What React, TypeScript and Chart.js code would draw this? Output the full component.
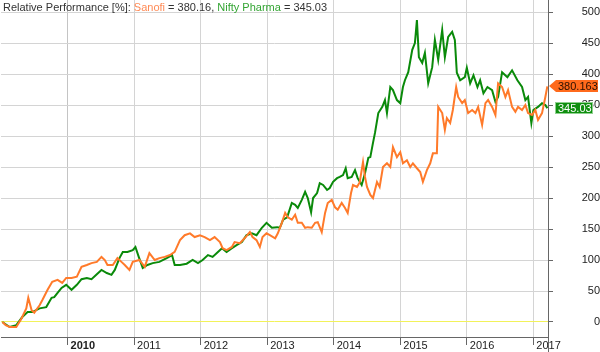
import React, { useEffect, useRef } from "react";
import { Chart, registerables } from "chart.js";

Chart.register(...registerables);

const titleLabel = "Relative Performance [%]: ";
const seriesNames = ["Sanofi", "Nifty Pharma"];
const lastValues = ["380.16", "345.03"];
const endLabels = ["380.163", "345.03"];

const yearTicks = [2010, 2011, 2012, 2013, 2014, 2015, 2016, 2017];
const valueTicks = [0, 50, 100, 150, 200, 250, 300, 350, 400, 450, 500];

const sanofi: [number, number][] = [
  [2009.02, 0], [2009.07, -5], [2009.13, -8], [2009.23, -8], [2009.31, 6], [2009.38, 22], [2009.41, 39],
  [2009.46, 19], [2009.5, 15], [2009.58, 27], [2009.62, 35], [2009.7, 52], [2009.77, 65], [2009.85, 68],
  [2009.92, 63], [2009.98, 71], [2010.06, 71], [2010.14, 73], [2010.21, 89], [2010.29, 92], [2010.36, 95],
  [2010.44, 97], [2010.51, 105], [2010.56, 100], [2010.6, 92], [2010.68, 92], [2010.75, 103], [2010.81, 97],
  [2010.86, 92], [2010.93, 84], [2010.98, 97], [2011.08, 100], [2011.16, 89], [2011.23, 111], [2011.31, 100],
  [2011.38, 103], [2011.46, 105], [2011.54, 108], [2011.61, 113], [2011.69, 132], [2011.76, 140], [2011.84, 143],
  [2011.91, 137], [2011.99, 140], [2012.06, 137], [2012.14, 132], [2012.21, 137], [2012.29, 129], [2012.33, 119],
  [2012.39, 116], [2012.47, 121], [2012.51, 129], [2012.59, 127], [2012.66, 135], [2012.74, 145], [2012.78, 137],
  [2012.84, 132], [2012.89, 121], [2012.93, 137], [2012.99, 143], [2013.04, 140], [2013.12, 135], [2013.16, 143],
  [2013.22, 160], [2013.27, 176], [2013.31, 169], [2013.37, 165], [2013.42, 173], [2013.46, 160], [2013.52, 160],
  [2013.57, 152], [2013.61, 153], [2013.67, 152], [2013.72, 160], [2013.76, 161], [2013.82, 145], [2013.87, 176],
  [2013.91, 192], [2013.97, 197], [2014.02, 185], [2014.06, 181], [2014.12, 192], [2014.17, 184], [2014.21, 176],
  [2014.26, 208], [2014.29, 221], [2014.35, 218], [2014.39, 225], [2014.44, 258], [2014.47, 234], [2014.5, 218],
  [2014.55, 205], [2014.59, 200], [2014.65, 226], [2014.69, 218], [2014.74, 250], [2014.8, 256], [2014.85, 250],
  [2014.89, 282], [2014.95, 266], [2015.0, 274], [2015.04, 256], [2015.1, 261], [2015.15, 250], [2015.19, 256],
  [2015.25, 248], [2015.3, 242], [2015.34, 226], [2015.4, 245], [2015.45, 256], [2015.49, 272], [2015.55, 272],
  [2015.57, 347], [2015.63, 337], [2015.67, 310], [2015.7, 329], [2015.75, 321], [2015.79, 342], [2015.84, 379],
  [2015.87, 363], [2015.93, 353], [2015.97, 358], [2016.02, 337], [2016.08, 342], [2016.13, 337], [2016.17, 347],
  [2016.23, 318], [2016.28, 353], [2016.32, 358], [2016.38, 347], [2016.43, 334], [2016.47, 385], [2016.53, 379],
  [2016.58, 363], [2016.62, 374], [2016.68, 347], [2016.73, 339], [2016.77, 347], [2016.83, 342], [2016.88, 350],
  [2016.92, 337], [2016.98, 334], [2017.03, 342], [2017.07, 326], [2017.13, 337], [2017.18, 363], [2017.21, 380.163],
];

const niftyPharma: [number, number][] = [
  [2009.02, 0], [2009.13, -8], [2009.23, -5], [2009.32, 8], [2009.4, 16], [2009.47, 16], [2009.58, 22],
  [2009.68, 24], [2009.76, 39], [2009.8, 40], [2009.85, 47], [2009.91, 55], [2009.98, 60], [2010.06, 52],
  [2010.14, 60], [2010.21, 69], [2010.29, 71], [2010.36, 69], [2010.44, 77], [2010.51, 84], [2010.59, 79],
  [2010.66, 76], [2010.71, 84], [2010.78, 103], [2010.83, 113], [2010.9, 113], [2010.98, 116], [2011.02, 121],
  [2011.07, 105], [2011.13, 87], [2011.2, 92], [2011.28, 95], [2011.38, 97], [2011.49, 103], [2011.57, 108],
  [2011.61, 92], [2011.69, 92], [2011.79, 94], [2011.88, 100], [2011.96, 95], [2012.03, 100], [2012.11, 108],
  [2012.18, 105], [2012.26, 113], [2012.32, 119], [2012.39, 113], [2012.47, 119], [2012.54, 124], [2012.62, 129],
  [2012.69, 140], [2012.77, 143], [2012.84, 140], [2012.92, 152], [2012.99, 160], [2013.07, 152], [2013.15, 153],
  [2013.19, 152], [2013.24, 165], [2013.3, 169], [2013.37, 192], [2013.42, 189], [2013.46, 184], [2013.52, 197],
  [2013.57, 210], [2013.61, 200], [2013.66, 177], [2013.69, 200], [2013.75, 208], [2013.79, 224], [2013.84, 221],
  [2013.9, 213], [2013.94, 216], [2013.99, 226], [2014.05, 232], [2014.09, 234], [2014.14, 237], [2014.18, 248],
  [2014.21, 232], [2014.27, 234], [2014.32, 245], [2014.36, 232], [2014.42, 221], [2014.47, 240], [2014.52, 265],
  [2014.55, 266], [2014.59, 289], [2014.62, 305], [2014.67, 337], [2014.73, 347], [2014.77, 358], [2014.8, 337],
  [2014.85, 379], [2014.89, 374], [2014.95, 358], [2015.0, 353], [2015.04, 379], [2015.07, 390], [2015.12, 403],
  [2015.18, 439], [2015.22, 450], [2015.25, 487], [2015.28, 427], [2015.33, 418], [2015.37, 434], [2015.42, 385],
  [2015.48, 411], [2015.52, 455], [2015.57, 423], [2015.63, 471], [2015.67, 427], [2015.72, 460], [2015.78, 468],
  [2015.82, 455], [2015.85, 402], [2015.9, 390], [2015.97, 395], [2016.0, 410], [2016.05, 385], [2016.1, 398],
  [2016.16, 379], [2016.2, 390], [2016.25, 369], [2016.31, 379], [2016.38, 374], [2016.43, 355], [2016.47, 363],
  [2016.53, 403], [2016.61, 395], [2016.68, 406], [2016.76, 390], [2016.83, 379], [2016.88, 358], [2016.92, 363],
  [2016.97, 321], [2017.0, 342], [2017.07, 347], [2017.13, 353], [2017.18, 350], [2017.21, 345.03],
];

const ORANGE = "#ff7a2a";
const GREEN = "#0a8a0a";
const FONT = "Arial, 'Liberation Sans', sans-serif";

const decorPlugin = {
  id: "decor",
  afterDraw(chart: any) {
    const ctx = chart.ctx;
    const y = chart.scales.y;
    const area = chart.chartArea;
    ctx.save();
    ctx.strokeStyle = "#666";
    ctx.lineWidth = 1;
    ctx.beginPath();
    ctx.moveTo(Math.round(area.right) + 0.5, 0);
    ctx.lineTo(Math.round(area.right) + 0.5, chart.height);
    ctx.stroke();

    ctx.font = `11px ${FONT}`;
    ctx.textBaseline = "alphabetic";
    ctx.textAlign = "left";
    const parts: [string, string][] = [
      [titleLabel, "#333"],
      [seriesNames[0], "#ff8a55"],
      [` = ${lastValues[0]}, `, "#333"],
      [seriesNames[1], "#33a533"],
      [` = ${lastValues[1]}`, "#333"],
    ];
    let x = 3;
    for (const [t, c] of parts) {
      ctx.fillStyle = c;
      ctx.fillText(t, x, 11);
      x += ctx.measureText(t).width;
    }

    const left = Math.round(area.right);
    const yo = Math.round(y.getPixelForValue(sanofi[sanofi.length - 1][1]));
    ctx.fillStyle = "#ff6a1c";
    ctx.beginPath();
    ctx.moveTo(left + 1, yo);
    ctx.lineTo(left + 8, yo - 6);
    ctx.lineTo(598, yo - 6);
    ctx.lineTo(598, yo + 6);
    ctx.lineTo(left + 8, yo + 6);
    ctx.closePath();
    ctx.fill();
    ctx.fillStyle = "#2a1000";
    ctx.textBaseline = "middle";
    ctx.fillText(endLabels[0], left + 10, yo + 0.5);

    const yg = Math.round(y.getPixelForValue(niftyPharma[niftyPharma.length - 1][1]));
    ctx.fillStyle = "#0f8f0f";
    ctx.fillRect(left + 7, yg - 6, 38, 12);
    ctx.strokeStyle = "#8fd08f";
    ctx.strokeRect(left + 7.5, yg - 5.5, 37, 11);
    ctx.fillStyle = "#ffffff";
    ctx.fillText(endLabels[1], left + 10, yg + 0.5);
    ctx.restore();
  },
};

export default function App() {
  const ref = useRef<HTMLCanvasElement | null>(null);
  useEffect(() => {
    if (!ref.current) return;
    const chart = new Chart(ref.current, {
      type: "line",
      data: {
        datasets: [
          {
            label: seriesNames[0],
            data: sanofi.map(([x, v]) => ({ x, y: v })),
            borderColor: ORANGE,
            borderWidth: 2,
            pointRadius: 0,
            tension: 0,
            fill: false,
          },
          {
            label: seriesNames[1],
            data: niftyPharma.map(([x, v]) => ({ x, y: v })),
            borderColor: GREEN,
            borderWidth: 2,
            pointRadius: 0,
            tension: 0,
            fill: false,
          },
        ],
      },
      options: {
        animation: false,
        responsive: false,
        devicePixelRatio: 1,
        layout: { padding: { left: 1, top: 0, right: 0, bottom: 0 } },
        plugins: { legend: { display: false }, tooltip: { enabled: false }, title: { display: false } },
        scales: {
          x: {
            type: "linear",
            position: "bottom",
            min: 2009.0,
            max: 2017.22,
            afterBuildTicks: (s: any) => {
              s.ticks = yearTicks.map((v) => ({ value: v }));
            },
            afterFit: (s: any) => {
              s.height = 15;
              s.paddingLeft = 0;
              s.paddingRight = 0;
              s.paddingTop = 0;
              s.paddingBottom = 0;
            },
            border: { display: true, color: "#666", width: 1 },
            grid: {
              color: (c: any) => (c.tick && c.tick.value === 2010 ? "#c4c4c4" : "#d4d4d4"),
              borderDash: (c: any) => (c.tick && c.tick.value === 2010 ? [] : [2, 2]),
              lineWidth: 1,
              tickLength: 8,
              tickColor: "#666",
              tickBorderDash: [],
            },
            ticks: {
              autoSkip: false,
              maxRotation: 0,
              minRotation: 0,
              align: "start",
              labelOffset: 3,
              padding: -6,
              color: "#222",
              font: (c: any) => ({
                family: FONT,
                size: 11,
                weight: c.tick && c.tick.value === 2010 ? "bold" : "normal",
              }),
              callback: (v: any) => String(v),
            },
          },
          y: {
            type: "linear",
            position: "right",
            min: -24.2,
            max: 519.4,
            afterBuildTicks: (s: any) => {
              s.ticks = valueTicks.map((v) => ({ value: v }));
            },
            afterFit: (s: any) => {
              s.width = 52;
              s.paddingTop = 0;
              s.paddingBottom = 0;
              s.paddingLeft = 0;
              s.paddingRight = 0;
            },
            border: { display: true, color: "#666", width: 1 },
            grid: {
              color: (c: any) => (c.tick && c.tick.value === 0 ? "#f2f25a" : "#d4d4d4"),
              borderDash: [2, 2],
              lineWidth: 1,
              tickLength: 5,
              tickColor: "#666",
              tickBorderDash: [],
            },
            ticks: {
              crossAlign: "far",
              padding: 26,
              color: "#222",
              font: { family: FONT, size: 11 },
              callback: (v: any) => String(v),
            },
          },
        },
      },
      plugins: [decorPlugin],
    } as any);
    return () => chart.destroy();
  }, []);

  return (
    <div style={{ position: "fixed", left: 0, top: 0, width: 600, height: 352, background: "#fff" }}>
      <canvas ref={ref} width={600} height={352} style={{ width: 600, height: 352, display: "block" }} />
    </div>
  );
}
